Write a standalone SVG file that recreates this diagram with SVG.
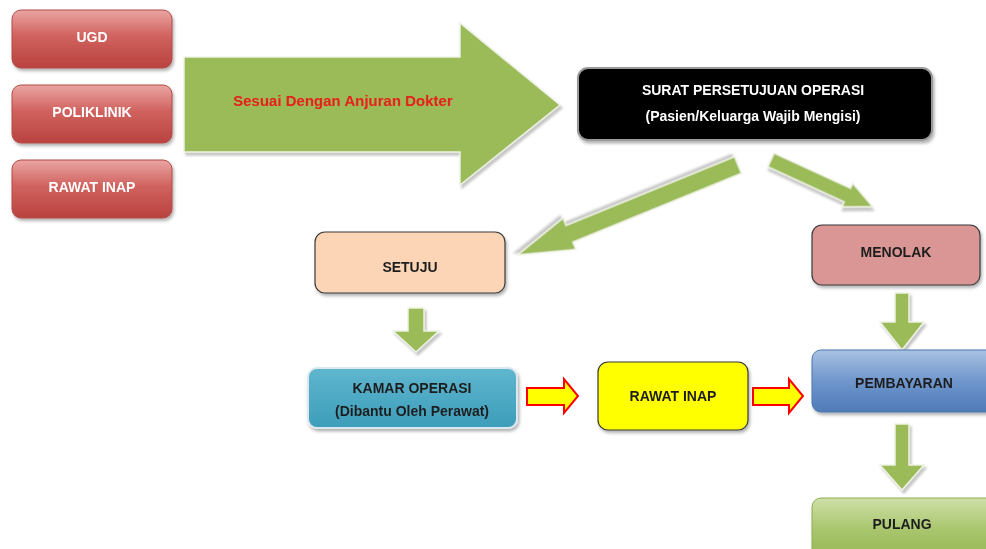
<svg xmlns="http://www.w3.org/2000/svg" width="986" height="549" viewBox="0 0 986 549">
<defs>
<linearGradient id="gRed" x1="0" y1="0" x2="0" y2="1">
<stop offset="0" stop-color="#eaa5a3"/>
<stop offset="0.45" stop-color="#d0625e"/>
<stop offset="1" stop-color="#b9423f"/>
</linearGradient>
<linearGradient id="gTeal" x1="0" y1="0" x2="0" y2="1">
<stop offset="0" stop-color="#5fb6cf"/>
<stop offset="1" stop-color="#3d9dba"/>
</linearGradient>
<linearGradient id="gBlue" x1="0" y1="0" x2="0" y2="1">
<stop offset="0" stop-color="#a9c2e3"/>
<stop offset="0.5" stop-color="#6f96cc"/>
<stop offset="1" stop-color="#4f7bb8"/>
</linearGradient>
<linearGradient id="gGreen" x1="0" y1="0" x2="0" y2="1">
<stop offset="0" stop-color="#cfe0a8"/>
<stop offset="0.5" stop-color="#a9c66e"/>
<stop offset="1" stop-color="#93b552"/>
</linearGradient>
<filter id="sh" x="-10%" y="-10%" width="125%" height="135%">
<feDropShadow dx="1.5" dy="2.5" stdDeviation="1.5" flood-color="#000" flood-opacity="0.3"/>
</filter>
<filter id="ash" x="-10%" y="-10%" width="125%" height="130%">
<feDropShadow dx="2" dy="3" stdDeviation="1.2" flood-color="#9a9a9a" flood-opacity="0.55"/>
</filter>
</defs>
<style>
.t{font-family:"Liberation Sans",Arial,sans-serif;font-weight:bold;font-size:14px;text-anchor:middle;dominant-baseline:central}
.w{fill:#ffffff}
.d{fill:#1f1f1f}
.red{fill:url(#gRed);stroke:#b04a47;stroke-width:1}
.ga{fill:#9bbb59;stroke:#eef2e4;stroke-width:1.5;filter:url(#ash)}
.ya{fill:#ffff00;stroke:#ff0000;stroke-width:2;stroke-linejoin:miter}
</style>
<rect width="986" height="549" fill="#ffffff"/>

<g id="connectors">
<polygon class="ga" points="184,57 460,57 460,23 560,105 460,185 460,152 184,152"/>
<text class="t" x="343" y="100" style="fill:#e3241b;font-size:15px">Sesuai Dengan Anjuran Dokter</text>
<path class="ga" transform="translate(738,165) rotate(157.8)" d="M0,-9 L182,-9 L182,-17 L238,0 L182,17 L182,9 L0,9 Z"/>
<path class="ga" transform="translate(771,160) rotate(24.7)" d="M0,-7.5 L84,-7.5 L84,-13 L112,0 L84,13 L84,7.5 L0,7.5 Z"/>
<polygon class="ga" points="408,308 424,308 424,331 439,331 416,352 393,331 408,331"/>
<polygon class="ga" points="895,293 909,293 909,322 924,322 902,350 880,322 895,322"/>
<polygon class="ga" points="895,424 909,424 909,465 924,465 902,490 880,465 895,465"/>
<polygon class="ya" points="527,388 564,388 564,379 578,396 564,413 564,405 527,405"/>
<polygon class="ya" points="753,388 789,388 789,379 803,396 789,413 789,405 753,405"/>
</g>

<g id="ugd" filter="url(#sh)">
<rect class="red" x="12" y="10" width="160" height="58" rx="9"/>
<text class="t w" x="92" y="37">UGD</text>
</g>
<g id="poliklinik" filter="url(#sh)">
<rect class="red" x="12" y="85" width="160" height="58" rx="9"/>
<text class="t w" x="92" y="112">POLIKLINIK</text>
</g>
<g id="rawat-inap-1" filter="url(#sh)">
<rect class="red" x="12" y="160" width="160" height="58" rx="9"/>
<text class="t w" x="92" y="187">RAWAT INAP</text>
</g>

<g id="surat" filter="url(#sh)">
<rect x="578" y="68" width="354" height="72" rx="10" fill="#000000" stroke="#9a9a9a" stroke-width="2"/>
<text class="t w" x="753" y="90">SURAT PERSETUJUAN OPERASI</text>
<text class="t w" x="753" y="116">(Pasien/Keluarga Wajib Mengisi)</text>
</g>

<g id="setuju" filter="url(#sh)">
<rect x="315" y="232" width="190" height="61" rx="10" fill="#fbd5b5" stroke="#3a3a3a" stroke-width="1.2"/>
<text class="t d" x="410" y="267">SETUJU</text>
</g>

<g id="menolak" filter="url(#sh)">
<rect x="812" y="225" width="168" height="60" rx="10" fill="#da9694" stroke="#3a3a3a" stroke-width="1.2"/>
<text class="t d" x="896" y="252">MENOLAK</text>
</g>

<g id="kamar-operasi" filter="url(#sh)">
<rect x="308" y="368" width="209" height="60" rx="9" fill="url(#gTeal)" stroke="#dbe9ee" stroke-width="2"/>
<text class="t d" x="412" y="388">KAMAR OPERASI</text>
<text class="t d" x="412" y="411">(Dibantu Oleh Perawat)</text>
</g>

<g id="rawat-inap-2" filter="url(#sh)">
<rect x="598" y="362" width="150" height="68" rx="10" fill="#ffff00" stroke="#3a3a3a" stroke-width="1.2"/>
<text class="t d" x="673" y="396">RAWAT INAP</text>
</g>

<g id="pembayaran" filter="url(#sh)">
<rect x="812" y="350" width="184" height="62" rx="9" fill="url(#gBlue)" stroke="#4a76b0" stroke-width="1"/>
<text class="t d" x="904" y="383">PEMBAYARAN</text>
</g>

<g id="pulang" filter="url(#sh)">
<rect x="812" y="498" width="184" height="62" rx="9" fill="url(#gGreen)" stroke="#8fae55" stroke-width="1"/>
<text class="t d" x="902" y="524">PULANG</text>
</g>
</svg>
